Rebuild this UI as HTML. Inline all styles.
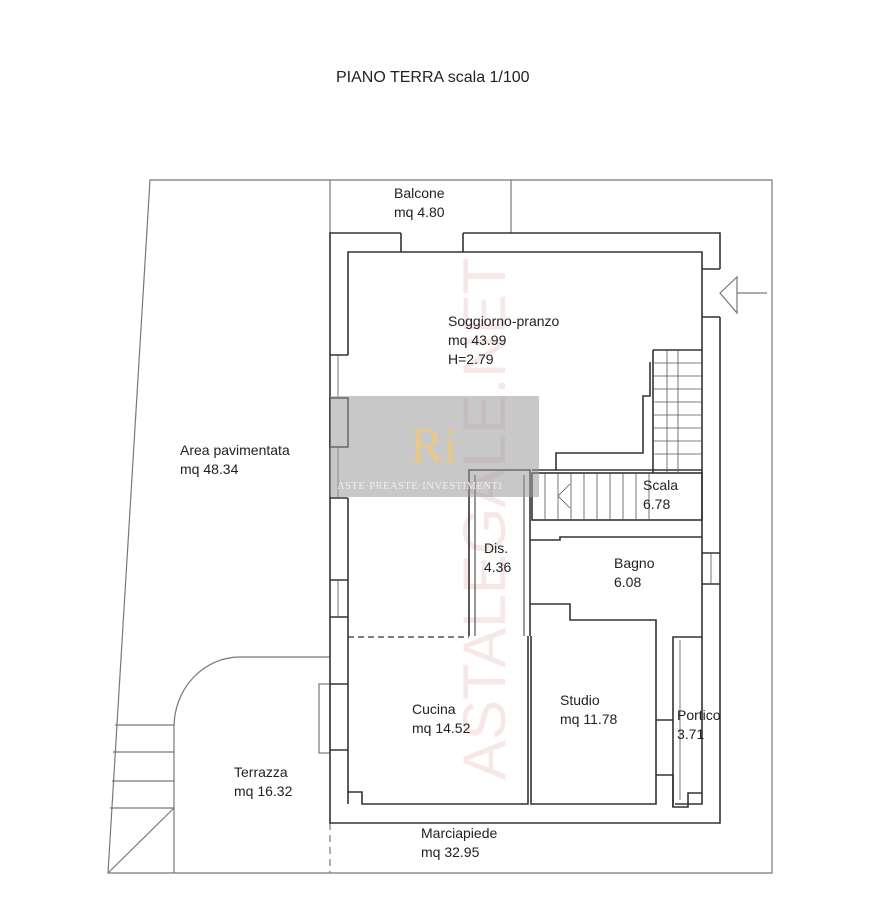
<!DOCTYPE html>
<html><head><meta charset="utf-8"><style>
html,body{margin:0;padding:0;background:#fff;}
svg{display:block}
text{font-family:"Liberation Sans",sans-serif;fill:#222;font-size:14px}
</style></head><body>
<svg width="878" height="900" viewBox="0 0 878 900" xmlns="http://www.w3.org/2000/svg">
<rect width="878" height="900" fill="#fff"/>
<text x="336" y="82" style="font-size:16px">PIANO TERRA  scala 1/100</text>

<!-- pink watermark -->
<text x="0" y="0" transform="translate(505,780) rotate(-90)" style="font-size:60px;fill:#f0cccc;opacity:0.45">ASTALEGALE.NET</text>

<g fill="none" stroke="#777" stroke-width="1.2">
<polyline points="330,180 150,180 108,873 772,873 772,180 511,180"/>
<polyline points="330,233 330,180 511,180 511,233"/>
<path d="M330,657 L240,657 A66,70 0 0 0 174,727 L174,873"/>
<line x1="115" y1="725" x2="174" y2="725"/>
<line x1="113" y1="752" x2="174" y2="752"/>
<line x1="112" y1="781" x2="174" y2="781"/>
<line x1="110" y1="808" x2="174" y2="808"/>
<line x1="108" y1="873" x2="174" y2="808"/>
<line x1="330" y1="823" x2="330" y2="873" stroke-dasharray="7,5"/>
<polygon points="720,293 737,277 737,313"/>
<line x1="737" y1="293" x2="767" y2="293"/>
<rect x="319" y="684" width="11" height="69"/>
</g>

<g fill="none" stroke="#333" stroke-width="1.6">
<polyline points="401,233 330,233 330,823 720,823 720,317"/>
<polyline points="463,233 720,233 720,269"/>
<line x1="401" y1="233" x2="401" y2="252"/>
<line x1="463" y1="233" x2="463" y2="252"/>
<line x1="702" y1="269" x2="720" y2="269"/>
<line x1="702" y1="317" x2="720" y2="317"/>
<polyline points="348,355 348,252 702,252 702,804 675,804"/>
<line x1="348" y1="498" x2="348" y2="804"/>
<line x1="330" y1="355" x2="348" y2="355"/>
<rect x="330" y="398" width="18" height="49"/>
<line x1="330" y1="498" x2="348" y2="498"/>
<line x1="330" y1="580" x2="348" y2="580"/>
<line x1="330" y1="617" x2="348" y2="617"/>
<line x1="330" y1="684" x2="348" y2="684"/>
<line x1="330" y1="750" x2="348" y2="750"/>
<polyline points="653,350 702,350"/>
<line x1="653" y1="350" x2="653" y2="473"/>
<polyline points="650,362 650,396 643,396 643,453 556,453 556,470"/>
<rect x="532" y="473" width="170" height="47"/>
<line x1="532" y1="470" x2="702" y2="470"/>
<polyline points="469,636 469,470 530,470 530,636"/>
<line x1="475" y1="475" x2="475" y2="636" stroke-width="1"/>
<line x1="524" y1="475" x2="524" y2="636" stroke-width="1"/>
<polyline points="530,540 560,540 560,537 702,537"/>
<polyline points="530,604 570,604 570,620 656,620 656,804 531,804 531,636"/>
<polyline points="528,636 528,804 362,804 362,792 348,792"/>
<line x1="348" y1="637" x2="469" y2="637" stroke-dasharray="6,4" stroke-width="1.2"/>
<polyline points="656,775 673,775 673,807 688,807 688,793 702,793"/>
<polyline points="673,807 673,637 702,637"/>
<line x1="656" y1="720" x2="673" y2="720"/>
<line x1="702" y1="553" x2="720" y2="553"/>
<line x1="702" y1="584" x2="720" y2="584"/>
</g>
<g stroke="#555" stroke-width="0.8" fill="none">
<line x1="338" y1="355" x2="338" y2="398"/>
<line x1="338" y1="447" x2="338" y2="498"/>
<line x1="338" y1="580" x2="338" y2="617"/>
<line x1="711" y1="553" x2="711" y2="584"/>
<line x1="680" y1="640" x2="680" y2="800"/>
<path d="M667,350V473M678,350V473M653,363H702M653,376H702M653,389H702M653,402H702M653,415H702M653,428H702M653,441H702M653,454H702M545,473V520M558,473V520M571,473V520M584,473V520M597,473V520M610,473V520M623,473V520M636,473V520M649,473V520"/>
<polyline points="570,484 558,496 570,508"/>
</g>

<rect x="330" y="396" width="209" height="101" fill="#9a9a9a" opacity="0.55"/>
<text x="410" y="462" style="font-size:50px;fill:#e8c98a;font-family:'Liberation Serif',serif">Ri</text>
<text x="337" y="489" style="font-size:10.5px;fill:#eee;font-family:'Liberation Serif',serif;letter-spacing:0.5px">ASTE·PREASTE·INVESTIMENTI</text>

<text x="394" y="198">Balcone</text>
<text x="394" y="217">mq 4.80</text>
<text x="448" y="326">Soggiorno-pranzo</text>
<text x="448" y="345">mq 43.99</text>
<text x="448" y="364">H=2.79</text>
<text x="180" y="455">Area pavimentata</text>
<text x="180" y="474">mq 48.34</text>
<text x="643" y="490">Scala</text>
<text x="643" y="509">6.78</text>
<text x="484" y="553">Dis.</text>
<text x="484" y="572">4.36</text>
<text x="614" y="568">Bagno</text>
<text x="614" y="587">6.08</text>
<text x="412" y="714">Cucina</text>
<text x="412" y="733">mq 14.52</text>
<text x="560" y="705">Studio</text>
<text x="560" y="724">mq 11.78</text>
<text x="677" y="720">Portico</text>
<text x="677" y="739">3.71</text>
<text x="234" y="777">Terrazza</text>
<text x="234" y="796">mq 16.32</text>
<text x="421" y="838">Marciapiede</text>
<text x="421" y="857">mq 32.95</text>
</svg>
</body></html>
